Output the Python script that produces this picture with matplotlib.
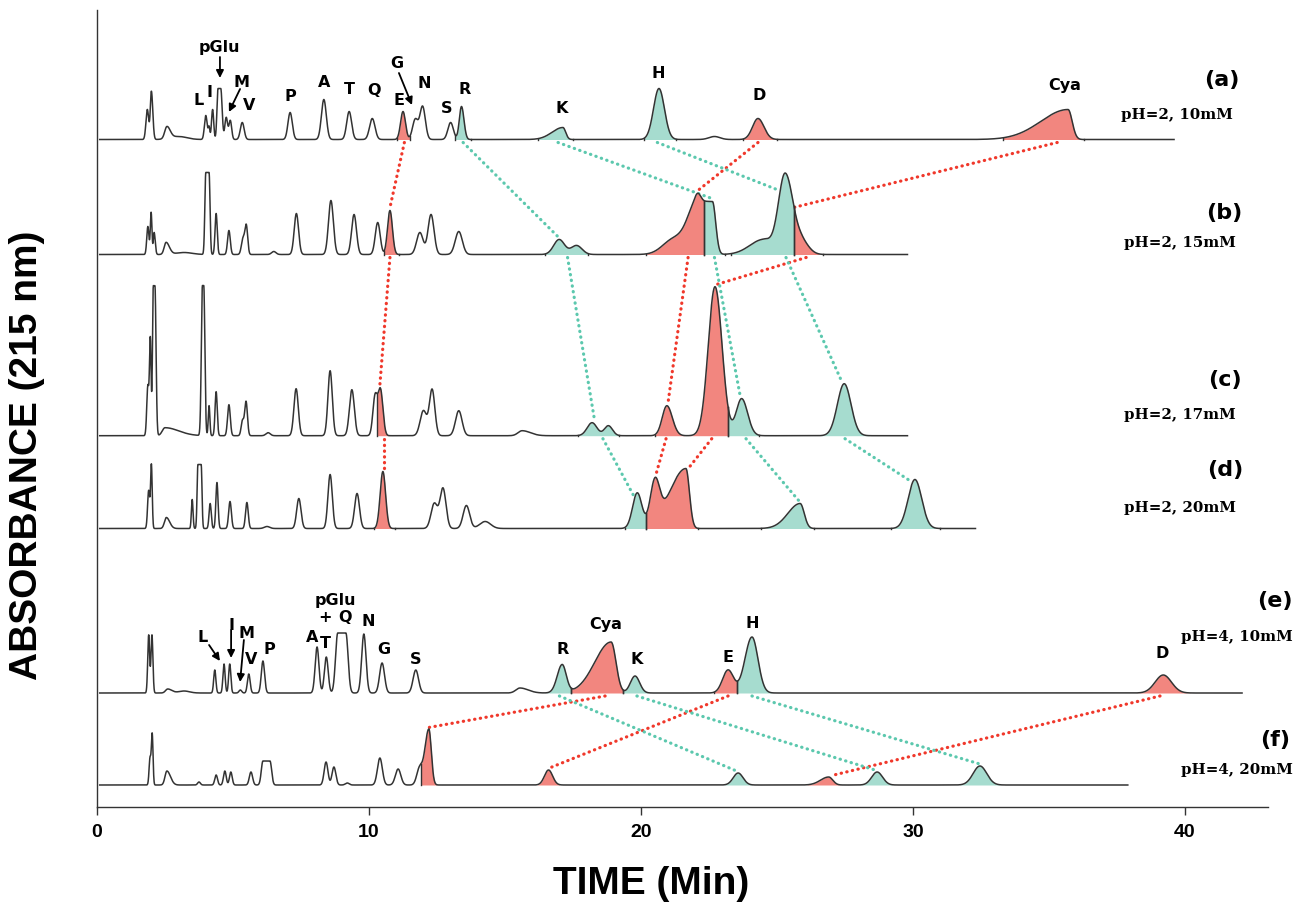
import numpy as np
import matplotlib.pyplot as plt

# 每个峰: (保留时间 min, 峰高, 左sigma, 右sigma, 平顶宽度)
peaks_a = [(1.85, 30, .05, .05, 0), (2.0, 48, .04, .05, 0), (2.57, 12, .08, .12, 0), (3.0, 3, .3, .3, 0),
           (4.0, 24, .05, .05, 0), (4.12, 12, .03, .03, 0), (4.25, 30, .04, .04, 0), (4.5, 51, .04, .05, .1),
           (4.75, 22, .05, .05, 0), (4.9, 19, .05, .05, 0), (5.34, 17, .07, .07, 0), (7.1, 27, .08, .08, 0),
           (8.34, 40, .09, .09, 0), (9.27, 28, .09, .09, 0), (10.12, 21, .1, .1, 0), (11.25, 28, .09, .09, 0),
           (11.7, 20, .1, .1, 0), (11.97, 33, .1, .1, 0), (13.0, 17, .1, .1, 0), (13.4, 33, .08, .09, 0),
           (17.13, 12, .4, .1, 0), (20.66, 51, .2, .2, 0), (22.7, 3, .2, .2, 0), (24.3, 21, .2, .22, 0),
           (35.7, 30, 1.0, .15, 0)]
peaks_b = [(1.87, 28, .04, .04, 0), (1.99, 42, .03, .03, 0), (2.1, 22, .03, .04, 0), (2.54, 12, .07, .12, 0),
           (3.2, 2, .3, .3, 0), (4.06, 82, .035, .035, .12), (4.38, 41, .04, .04, 0), (4.85, 24, .05, .05, 0),
           (5.37, 16, .06, .06, 0), (5.49, 28, .05, .05, 0), (6.5, 3, .08, .08, 0), (7.33, 41, .08, .08, 0),
           (8.6, 54, .09, .09, 0), (9.45, 40, .09, .09, 0), (10.32, 32, .09, .09, 0), (10.77, 44, .09, .09, 0),
           (11.87, 22, .12, .12, 0), (12.28, 40, .11, .11, 0), (13.3, 23, .13, .13, 0),
           (16.99, 15, .2, .2, 0), (17.63, 9, .2, .2, 0),
           (21.2, 15, .4, .4, 0), (22.35, 53, .35, .12, .55), (22.1, 7, .1, .1, 0),
           (24.5, 15, .5, .3, 0), (25.3, 81, .25, .3, 0), (25.95, 10, .2, .25, 0)]
peaks_c = [(1.87, 50, .04, .04, 0), (1.96, 95, .03, .03, 0), (2.1, 150, .03, .04, .06), (2.5, 8, .1, .5, 0),
           (3.9, 150, .04, .04, .05), (4.12, 30, .03, .03, 0), (4.38, 44, .04, .04, 0), (4.85, 31, .05, .05, 0),
           (5.35, 15, .05, .05, 0), (5.48, 34, .05, .05, 0), (6.29, 3, .08, .08, 0), (7.32, 47, .08, .08, 0),
           (8.57, 65, .08, .08, 0), (9.37, 46, .09, .09, 0), (10.22, 38, .08, .08, 0), (10.42, 46, .09, .09, 0),
           (12.0, 25, .12, .12, 0), (12.32, 46, .1, .1, 0), (13.3, 25, .12, .12, 0), (15.63, 5, .15, .3, 0),
           (18.2, 13, .18, .18, 0), (18.8, 10, .15, .15, 0), (20.95, 30, .17, .2, 0),
           (22.72, 149, .25, .26, 0), (23.7, 37, .2, .22, 0), (27.47, 52, .25, .25, 0)]
peaks_d = [(1.9, 38, .04, .04, 0), (2.0, 63, .03, .03, 0), (2.55, 11, .07, .12, 0), (3.5, 29, .03, .03, 0),
           (3.77, 64, .03, .03, .12), (4.16, 25, .04, .04, 0), (4.41, 46, .04, .04, 0), (4.89, 27, .05, .05, 0),
           (5.51, 26, .05, .05, 0), (6.25, 2, .1, .1, 0), (7.42, 30, .08, .08, 0), (8.57, 54, .08, .08, 0),
           (9.56, 35, .09, .09, 0), (10.51, 57, .1, .1, 0), (12.4, 25, .12, .12, 0), (12.72, 40, .11, .11, 0),
           (13.58, 23, .12, .12, 0), (14.27, 7, .2, .2, 0),
           (19.86, 35, .17, .17, 0), (20.51, 41, .17, .17, 0), (21.65, 60, .6, .13, 0),
           (25.85, 25, .45, .15, 0), (30.07, 49, .25, .25, 0)]
peaks_e = [(1.9, 58, .035, .035, 0), (2.02, 58, .035, .035, 0), (2.6, 4, .08, .15, 0), (3.2, 2, .2, .2, 0),
           (4.33, 23, .04, .04, 0), (4.67, 29, .04, .04, 0), (4.88, 29, .04, .04, 0), (5.27, 3, .05, .05, 0),
           (5.58, 19, .05, .05, 0), (6.1, 32, .06, .06, 0), (8.09, 46, .07, .07, 0), (8.43, 36, .07, .07, 0),
           (9.0, 60, .08, .08, .3), (9.81, 59, .08, .08, 0), (10.48, 30, .09, .09, 0), (11.72, 23, .1, .1, 0),
           (15.55, 5, .15, .3, 0), (17.1, 28, .18, .15, 0), (18.9, 51, .6, .18, 0), (19.78, 17, .17, .17, 0),
           (23.2, 23, .2, .2, 0), (24.08, 56, .26, .22, 0), (39.2, 18, .3, .3, 0)]
peaks_f = [(1.95, 27, .035, .035, 0), (2.03, 50, .03, .03, 0), (2.57, 14, .07, .13, 0), (3.75, 3, .05, .05, 0),
           (4.38, 10, .05, .05, 0), (4.7, 14, .05, .05, 0), (4.92, 13, .05, .05, 0), (5.66, 13, .06, .06, 0),
           (6.23, 24, .06, .06, .26), (8.42, 23, .07, .07, 0), (8.71, 18, .07, .07, 0), (9.2, 2, .07, .07, 0),
           (10.4, 27, .09, .09, 0), (11.07, 16, .1, .1, 0), (11.85, 15, .1, .1, 0), (12.2, 56, .15, .09, 0),
           (16.6, 15, .15, .15, 0), (23.57, 12, .18, .18, 0), (26.9, 8, .3, .15, 0), (28.68, 13, .2, .2, 0),
           (32.46, 19, .25, .25, 0)]

# 填色区间 (起, 止, 颜色)
fills_a = [(11.03, 11.5, 'r'), (13.17, 13.75, 'g'), (16.2, 17.5, 'g'), (20.1, 21.3, 'g'), (23.75, 25.0, 'r'), (33.3, 36.3, 'r')]
fills_b = [(10.55, 11.1, 'r'), (16.47, 18.05, 'g'), (20.2, 22.32, 'r'), (22.32, 23.1, 'g'), (23.3, 25.62, 'g'), (25.62, 26.7, 'r')]
fills_c = [(10.3, 10.88, 'r'), (17.7, 19.2, 'g'), (20.5, 21.6, 'r'), (21.75, 23.2, 'r'), (23.2, 24.35, 'g'), (26.6, 28.4, 'g')]
fills_d = [(10.18, 10.96, 'r'), (19.4, 20.18, 'g'), (20.18, 22.1, 'r'), (24.4, 26.35, 'g'), (29.2, 31.0, 'g')]
fills_e = [(16.47, 17.43, 'g'), (17.43, 19.34, 'r'), (19.34, 20.25, 'g'), (22.7, 23.53, 'r'), (23.53, 25.2, 'g'), (38.2, 40.2, 'r')]
fills_f = [(11.9, 12.5, 'r'), (16.2, 17.0, 'r'), (23.05, 24.1, 'g'), (26.1, 27.4, 'r'), (28.0, 29.35, 'g'), (31.7, 33.3, 'g')]

names = ['a', 'b', 'c', 'd', 'e', 'f']
baselines = [667.5, 552.5, 371.3, 278.5, 114.0, 22.0]
run_end = [39.6, 29.8, 29.8, 32.3, 42.1, 37.9]
conditions = ['pH=2, 10mM', 'pH=2, 15mM', 'pH=2, 17mM', 'pH=2, 20mM', 'pH=4, 10mM', 'pH=4, 20mM']

# 连线: (上色谱, 起始时间, 下色谱, 终点时间)
red_links = [('a', 11.3, 'b', 10.77), ('b', 10.77, 'c', 10.4), ('c', 10.55, 'd', 10.55),
             ('a', 24.3, 'b', 22.1), ('a', 35.3, 'b', 25.65), ('b', 21.73, 'c', 20.99),
             ('b', 26.07, 'c', 22.75), ('c', 20.92, 'd', 20.55), ('c', 22.6, 'd', 21.7),
             ('e', 18.68, 'f', 12.22), ('e', 23.2, 'f', 16.65), ('e', 39.08, 'f', 27.0)]
teal_links = [('a', 13.46, 'b', 16.95), ('a', 16.95, 'b', 22.6), ('a', 20.6, 'b', 25.1),
              ('b', 17.3, 'c', 18.3), ('b', 22.7, 'c', 23.65), ('b', 25.33, 'c', 27.4),
              ('c', 18.6, 'd', 19.75), ('c', 23.86, 'd', 25.8), ('c', 27.5, 'd', 29.95),
              ('e', 17.0, 'f', 23.5), ('e', 19.85, 'f', 28.6), ('e', 24.08, 'f', 32.4)]

# 峰标注 (文字, 时间, 相对基线高度)
labels_a = [('L', 3.75, 39.5), ('I', 4.15, 47.5), ('M', 5.33, 57.5), ('V', 5.59, 34.5), ('P', 7.1, 43.5),
            ('A', 8.35, 57.5), ('T', 9.26, 50.5), ('Q', 10.18, 49.5), ('E', 11.1, 39.5), ('N', 12.02, 56.5),
            ('S', 12.87, 31.5), ('R', 13.53, 50.5), ('K', 17.1, 31.5), ('H', 20.63, 66.5), ('D', 24.34, 44.5),
            ('Cya', 35.59, 54.5), ('pGlu', 4.49, 92.5), ('G', 11.03, 76.5)]
arrows_a = [(4.52, 82.5, 4.52, 61.5), (5.26, 50.5, 4.85, 27.5), (11.1, 66.5, 11.58, 34.5)]
labels_e = [('L', 3.9, 55), ('I', 4.93, 68), ('M', 5.51, 60), ('V', 5.66, 34), ('P', 6.32, 43),
            ('A', 7.9, 56), ('T', 8.38, 50), ('pGlu', 8.75, 93), ('+', 8.38, 76), ('Q', 9.12, 75),
            ('N', 9.96, 71), ('G', 10.55, 44), ('S', 11.73, 33), ('R', 17.1, 44), ('Cya', 18.71, 68),
            ('K', 19.85, 33), ('E', 23.2, 36), ('H', 24.08, 70), ('D', 39.15, 39)]
arrows_e = [(4.12, 48, 4.52, 32), (4.93, 63, 4.93, 35), (5.4, 53, 5.26, 11)]

all_peaks = dict(zip(names, [peaks_a, peaks_b, peaks_c, peaks_d, peaks_e, peaks_f]))
all_fills = dict(zip(names, [fills_a, fills_b, fills_c, fills_d, fills_e, fills_f]))
base = dict(zip(names, baselines))

fill_col = {'r': '#F2867F', 'g': '#A6DCCF'}
line_col = {'r': '#F0382B', 'g': '#5CC8AE'}


def signal(t, peaks):
    t = np.asarray(t, dtype=float)
    y = np.zeros_like(t)
    for t0, h, sl, sr, w in peaks:
        lo, hi = t0 - w / 2, t0 + w / 2
        g = np.where(t < lo, np.exp(-0.5 * ((t - lo) / sl) ** 2),
                     np.where(t > hi, np.exp(-0.5 * ((t - hi) / sr) ** 2), 1.0))
        y += h * g
    return y


fig = plt.figure(figsize=(12.95, 9.07), dpi=100)
ax = fig.add_axes([97 / 1295, 100 / 907, 1171 / 1295, 797 / 907])
ax.set_xlim(0, 43.05)
ax.set_ylim(0, 797)

# 连线
for links, c in [(red_links, 'r'), (teal_links, 'g')]:
    for up, t1, lo, t2 in links:
        y1 = base[up] - 3
        y2 = base[lo] + float(signal(t2, all_peaks[lo])) + 3
        ax.plot([t1, t2], [y1, y2], color=line_col[c], lw=2.3,
                linestyle=(0, (0.1, 1.7)), dash_capstyle='round', zorder=1)

# 色谱线
for n, tend in zip(names, run_end):
    t = np.arange(0.1, tend, 0.004)
    y = signal(t, all_peaks[n])
    b = base[n]
    for t1, t2, c in all_fills[n]:
        m = (t >= t1) & (t <= t2)
        ax.fill_between(t[m], b, b + y[m], color=fill_col[c], lw=0, zorder=2)
        for tt in (t1, t2):
            ax.plot([tt, tt], [b, b + float(signal(tt, all_peaks[n]))], color='#333333', lw=1.0, zorder=3)
    ax.plot(t, b + y, color='#333333', lw=1.1, zorder=4)

# 标注
for labels, arrows, n in [(labels_a, arrows_a, 'a'), (labels_e, arrows_e, 'e')]:
    b = base[n]
    for s, tx, dy in labels:
        ax.text(tx, b + dy, s, ha='center', va='center', fontsize=11.5, fontweight='bold')
    for tx, dy, tt, dt in arrows:
        ax.annotate('', xy=(tt, b + dt), xytext=(tx, b + dy),
                    arrowprops=dict(arrowstyle='-|>', color='k', lw=1.3, mutation_scale=11,
                                    shrinkA=0, shrinkB=0))

# 右侧条件说明
tag_pos = [(41.36, 727, 39.7, 692), (41.43, 594, 39.82, 564), (41.47, 427, 39.82, 392),
           (41.47, 337, 39.82, 299), (43.31, 206, 41.9, 170), (43.31, 67, 41.9, 37)]
for n, cond, (tx, ty, cx, cy) in zip(names, conditions, tag_pos):
    ax.text(tx, ty, '(%s)' % n, ha='center', va='center', fontsize=16, fontweight='bold')
    ax.text(cx, cy, cond, ha='center', va='center', fontsize=10.8, fontweight='bold', family='DejaVu Serif')

# 坐标轴
for s in ['top', 'right']:
    ax.spines[s].set_visible(False)
for s in ['left', 'bottom']:
    ax.spines[s].set_color('#333333')
    ax.spines[s].set_linewidth(1.0)
ax.set_yticks([])
ax.set_xticks([0, 10, 20, 30, 40])
ax.tick_params(axis='x', direction='out', length=6, width=1, color='#333333', labelsize=14, pad=6)
for lab in ax.get_xticklabels():
    lab.set_fontweight('bold')
    lab.set_family('Liberation Sans')

fig.text(651 / 1295, 1 - 884 / 907, 'TIME (Min)', ha='center', va='center', fontsize=28,
         fontweight='bold', family='Liberation Sans')
fig.text(27 / 1295, 1 - 455 / 907, 'ABSORBANCE (215 nm)', ha='center', va='center', fontsize=28,
         fontweight='bold', family='Liberation Sans', rotation=90)

plt.savefig('out.png', dpi=100)
